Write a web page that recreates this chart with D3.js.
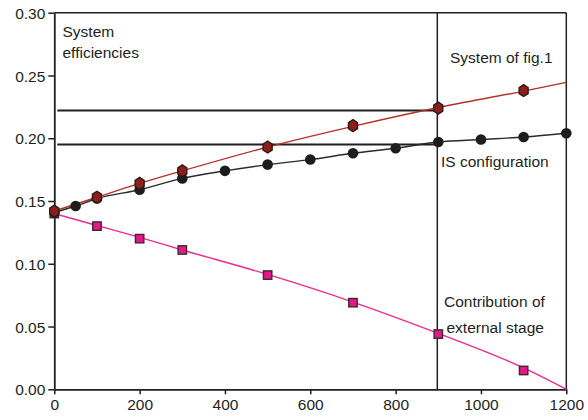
<!DOCTYPE html>
<html>
<head>
<meta charset="utf-8">
<script src="https://cdn.jsdelivr.net/npm/d3@7"></script>
<style>
  body { margin: 0; background: #fff; }
  svg text { font-family: "Liberation Sans", Arial, Helvetica, sans-serif; fill: #231f20; }
</style>
</head>
<body>
<svg id="chart"></svg>
<script>
// data
let xTicks = [0, 200, 400, 600, 800, 1000, 1200];
let yTicks = [0, 0.05, 0.10, 0.15, 0.20, 0.25, 0.30];

// System of fig.1 (markers + curve)
let fig1X = [0, 100, 200, 300, 500, 700, 900, 1100];
let fig1Y = [0.142, 0.153, 0.164, 0.174, 0.193, 0.210, 0.224, 0.238];
let fig1CurveX = [0, 100, 200, 300, 500, 700, 900, 1100, 1200];
let fig1CurveY = [0.142, 0.153, 0.164, 0.174, 0.193, 0.2095, 0.2245, 0.2375, 0.2445];

// IS configuration
let isX = [0, 50, 100, 200, 300, 400, 500, 600, 700, 800, 900, 1000, 1100, 1200];
let isY = [0.141, 0.146, 0.152, 0.159, 0.168, 0.174, 0.179, 0.183, 0.188, 0.192, 0.197, 0.199, 0.201, 0.204];

// Contribution of external stage
let extX = [0, 100, 200, 300, 500, 700, 900, 1100];
let extY = [0.140, 0.130, 0.120, 0.111, 0.091, 0.069, 0.044, 0.015];
let extCurveX = [0, 100, 200, 300, 500, 700, 900, 1100, 1200];
let extCurveY = [0.140, 0.1305, 0.121, 0.111, 0.0915, 0.0695, 0.0445, 0.017, 0.0];

// reference lines
let refLevels = [0.222, 0.195];
let refX = 900;

let width = 588;
let height = 420;
let mLeft = 54.3, mRight = 566.3, mTop = 12.7, mBottom = 389.3;

let svg = d3.select("#chart").attr("width", width).attr("height", height);

let xScale = d3.scaleLinear().domain([0, 1200]).range([mLeft, mRight]);
let yScale = d3.scaleLinear().domain([0, 0.30]).range([mBottom, mTop]);

const ink = "#231f20";

// frame: top and right borders
svg.append("line")
   .attr("x1", mLeft).attr("x2", mRight).attr("y1", mTop).attr("y2", mTop)
   .attr("stroke", ink).attr("stroke-width", 1.5);
svg.append("line")
   .attr("x1", mRight).attr("x2", mRight).attr("y1", mTop).attr("y2", mBottom)
   .attr("stroke", ink).attr("stroke-width", 1.5);

// vertical marker at 900
svg.append("line")
   .attr("x1", xScale(refX) - 1).attr("x2", xScale(refX) - 1)
   .attr("y1", mTop).attr("y2", mBottom)
   .attr("stroke", ink).attr("stroke-width", 1.5);

// horizontal reference lines
svg.selectAll(".ref")
   .data(refLevels)
   .enter()
   .append("line")
   .attr("class", "ref")
   .attr("x1", mLeft + 3).attr("x2", xScale(refX) - 1)
   .attr("y1", d => yScale(d)).attr("y2", d => yScale(d))
   .attr("stroke", ink).attr("stroke-width", 2);

// axes
let xAxis = d3.axisBottom(xScale).tickValues(xTicks).tickSize(5).tickSizeOuter(0).tickFormat(d3.format("d"));
let yAxis = d3.axisLeft(yScale).tickValues(yTicks).tickSize(6).tickSizeOuter(0).tickFormat(d3.format(".2f"));

let gx = svg.append("g").attr("transform", `translate(0, ${mBottom})`).call(xAxis);
let gy = svg.append("g").attr("transform", `translate(${mLeft}, 0)`).call(yAxis);

[gx, gy].forEach(g => {
  g.select(".domain").attr("stroke", ink).attr("stroke-width", 1.8);
  g.selectAll(".tick line").attr("stroke", ink).attr("stroke-width", 1.5);
  g.selectAll(".tick text").attr("font-size", 15.5).attr("font-family", null);
});
gx.selectAll(".tick text").attr("dy", "0.95em").attr("y", 6);
gy.selectAll(".tick text").attr("x", -9).attr("dy", "0.36em");

// curves
const line = d3.line()
   .x(d => xScale(d[0]))
   .y(d => yScale(d[1]))
   .curve(d3.curveMonotoneX);

const zip = (xs, ys) => xs.map((x, i) => [x, ys[i]]);

svg.append("path").datum(zip(extCurveX, extCurveY))
   .attr("d", line).attr("fill", "none").attr("stroke", "#ee2a92").attr("stroke-width", 1.4);
svg.append("path").datum(zip(isX, isY))
   .attr("d", line).attr("fill", "none").attr("stroke", "#2a2a2a").attr("stroke-width", 1.4);
svg.append("path").datum(zip(fig1CurveX, fig1CurveY))
   .attr("d", line).attr("fill", "none").attr("stroke", "#b3302b").attr("stroke-width", 1.4);

// markers: external stage squares
svg.selectAll(".sq")
   .data(zip(extX, extY))
   .enter()
   .append("rect")
   .attr("class", "sq")
   .attr("x", d => xScale(d[0]) - 4.2)
   .attr("y", d => yScale(d[1]) - 4.2)
   .attr("width", 8.4).attr("height", 8.4)
   .attr("fill", "#e4178b").attr("stroke", "#3a2a30").attr("stroke-width", 1.4);

// IS configuration dots
svg.selectAll(".dot")
   .data(zip(isX, isY))
   .enter()
   .append("circle")
   .attr("class", "dot")
   .attr("cx", d => xScale(d[0]))
   .attr("cy", d => yScale(d[1]))
   .attr("r", 5.3)
   .attr("fill", "#1e1c1d");

// System of fig.1 diamonds
const diamond = "M0,-6 L4.5,-3 L4.5,3 L0,6 L-4.5,3 L-4.5,-3 Z";
svg.selectAll(".dia")
   .data(zip(fig1X, fig1Y))
   .enter()
   .append("path")
   .attr("class", "dia")
   .attr("d", diamond)
   .attr("transform", d => `translate(${xScale(d[0])}, ${yScale(d[1])})`)
   .attr("fill", "#8e1e1a").attr("stroke", "#2a1a1a").attr("stroke-width", 1.4);

// annotations
const note = (x, y, t) => svg.append("text").attr("x", x).attr("y", y)
   .attr("font-size", 15.5).text(t);

note(62.5, 36.5, "System");
note(62.5, 57.5, "efficiencies");
note(450, 62.5, "System of fig.1");
note(441, 166.5, "IS configuration");
note(444, 306.5, "Contribution of");
note(446.5, 333, "external stage");
</script>
</body>
</html>
